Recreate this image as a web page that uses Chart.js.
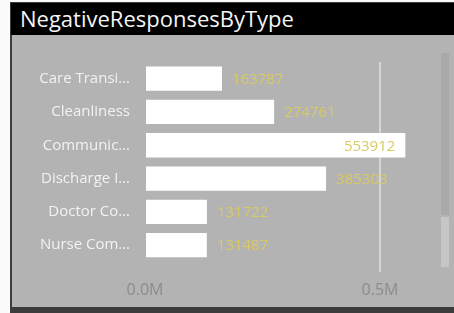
<!DOCTYPE html>
<html>
<head>
<meta charset="utf-8">
<script src="https://cdn.jsdelivr.net/npm/chart.js@4"></script>
<style>
  html, body { margin: 0; padding: 0; background: #fbfbfb; overflow: hidden; }
  #frame { position: absolute; left: 10px; top: 2px; width: 444px; height: 311px; background: #3c3c3c; }
  #title { position: absolute; left: 11px; top: 3px; width: 443px; height: 32px; background: #000;
           color: #f4f4f4; font: 22px "Open Sans", sans-serif; line-height: 31px; padding-left: 9px; box-sizing: border-box; }
  #panel { position: absolute; left: 12px; top: 35px; width: 442px; height: 272px; background: #b3b3b3; }
  #track { position: absolute; left: 441px; top: 53px; width: 8px; height: 162px; background: #a9a9a9; }
  #thumb { position: absolute; left: 441px; top: 217px; width: 8px; height: 50px; background: #c6c6c6; }
  #wrap { position: absolute; left: 12px; top: 35px; width: 428px; height: 278px; }
</style>
</head>
<body>
<div id="frame"></div>
<div id="title">NegativeResponsesByType</div>
<div id="panel"></div>
<div id="track"></div>
<div id="thumb"></div>
<div id="wrap"><canvas id="chart"></canvas></div>
<script>
// values
const categories = ['Care Transi…', 'Cleanliness', 'Communic…', 'Discharge I…', 'Doctor Co…', 'Nurse Com…'];
const responses = [163787, 274761, 553912, 385303, 131722, 131487];
const tickValues = [0, 500000];

// draw the number next to each bar (inside if it does not fit)
const valueLabels = {
  id: 'valueLabels',
  afterDatasetsDraw(chart) {
    const ctx = chart.ctx;
    const area = chart.chartArea;
    const meta = chart.getDatasetMeta(0);
    ctx.save();
    ctx.font = '15px "Open Sans", sans-serif';
    ctx.fillStyle = '#d9ca62';
    ctx.textBaseline = 'middle';
    meta.data.forEach((bar, i) => {
      const text = String(responses[i]);
      const w = ctx.measureText(text).width;
      if (bar.x + 10 + w > area.right) {
        ctx.textAlign = 'right';
        ctx.fillText(text, bar.x - 10, bar.y + 1);
      } else {
        ctx.textAlign = 'left';
        ctx.fillText(text, bar.x + 10, bar.y + 1);
      }
    });
    ctx.restore();
  }
};

var ctx = document.getElementById('chart').getContext('2d');
var chart = new Chart(ctx, {
  type: 'bar',
  data: {
    labels: categories,
    datasets: [{
      data: responses,
      backgroundColor: '#ffffff',
      borderWidth: 0,
      barPercentage: 0.73,
      categoryPercentage: 1
    }]
  },
  options: {
    indexAxis: 'y',
    responsive: true,
    maintainAspectRatio: false,
    animation: false,
    layout: { padding: { top: 27, right: 13, bottom: 4, left: 0 } },
    plugins: { legend: { display: false }, tooltip: { enabled: false } },
    scales: {
      x: {
        min: 0,
        max: 600000,
        border: { display: false },
        grid: {
          color: c => (c.tick && c.tick.value === 500000) ? '#d6d6d6' : 'transparent',
          lineWidth: 2,
          drawTicks: true,
          tickLength: 10
        },
        afterBuildTicks: axis => { axis.ticks = tickValues.map(v => ({ value: v })); },
        ticks: {
          color: '#8c8c8c',
          padding: 9,
          font: { family: 'Open Sans', size: 16 },
          callback: v => (v / 1000000).toFixed(1) + 'M'
        }
      },
      y: {
        border: { display: false },
        grid: { display: false },
        afterFit: axis => { axis.width = 133; },
        ticks: {
          color: '#f2f2f2',
          padding: 7,
          font: { family: 'Open Sans', size: 15 }
        }
      }
    }
  },
  plugins: [valueLabels]
});
</script>
</body>
</html>
